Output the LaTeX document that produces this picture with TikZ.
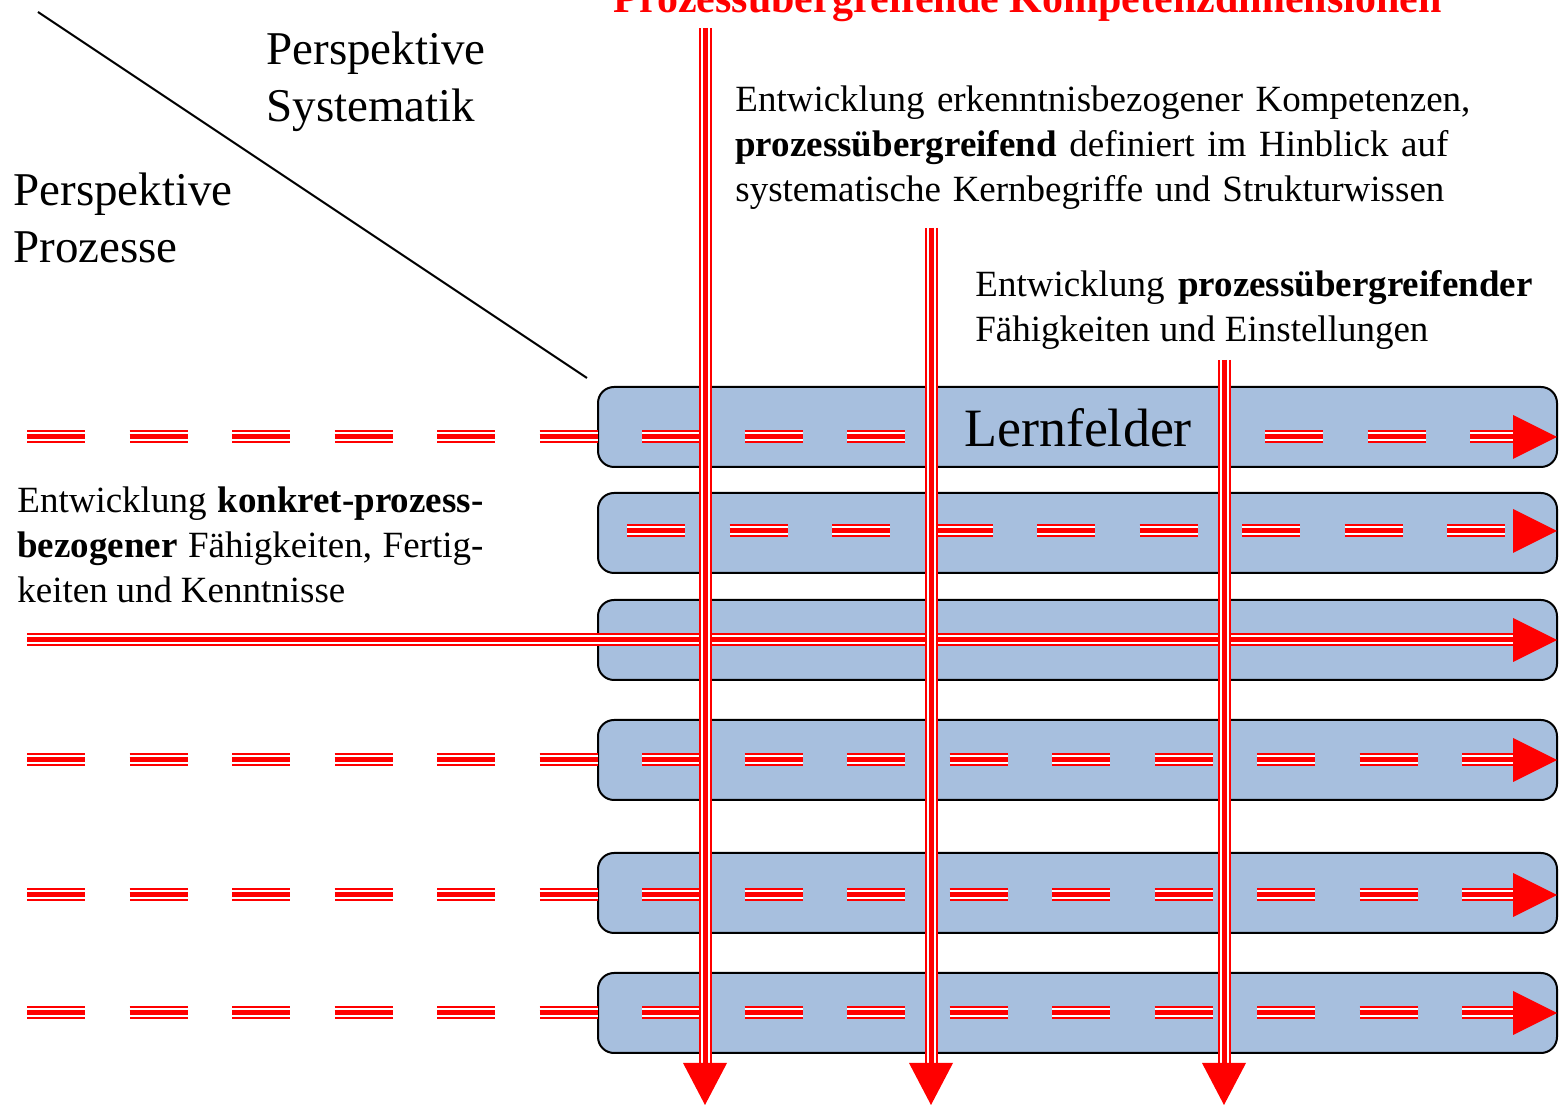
\documentclass[tikz,border=0pt]{standalone}
\usepackage{fontspec}
\setmainfont{Liberation Serif}
\definecolor{boxfill}{RGB}{167,191,222}
\tikzset{
  lfbox/.style={draw=black, line width=1pt, fill=boxfill, rounded corners=8pt,
    minimum width=479.5pt, minimum height=40pt, inner sep=0pt},
  redline/.style={draw=red, line width=6.5pt,
    postaction={draw=white, line width=4.5pt},
    postaction={draw=red, line width=2.5pt}},
  dashline/.style={redline, dash pattern=on 29pt off 22.25pt},
  body/.style={font=\fontsize{18.5pt}{22.5pt}\selectfont, anchor=base west, inner sep=0pt},
  persp/.style={font=\fontsize{23.5pt}{28pt}\selectfont, anchor=base west, inner sep=0pt},
  title/.style={font=\fontsize{21pt}{25pt}\selectfont\bfseries, text=red, anchor=base, inner sep=0pt},
  lf/.style={font=\fontsize{27pt}{32pt}\selectfont, anchor=base, inner sep=0pt},
  diag/.style={draw=black, line width=1pt},
}
\newcommand{\htip}[1]{\fill[red] (#1) ++(-44,-22) -- (#1) -- ++(-44,22) -- cycle;}
\newcommand{\vtip}[1]{\fill[red] (#1) ++(-22,-42) -- (#1) -- ++(22,-42) -- cycle;}
\begin{document}
\begin{tikzpicture}[x=0.5pt,y=-0.5pt]
\useasboundingbox (0,0) rectangle (1560,1111);

% title (cut at the top edge, as in the reference)
\node[title] (title) at (1027.5,13) {Prozessübergreifende Kompetenzdimensionen};

% diagonal
\coordinate (d1) at (38,12);
\coordinate (d2) at (587,378);
\draw[diag] (d1) -- (d2);

% perspective labels
\node[persp] (ps1) at (266,65) {Perspektive};
\node[persp] (ps2) at (266,122) {Systematik};
\node[persp] (pp1) at (13,206) {Perspektive};
\node[persp] (pp2) at (13,263) {Prozesse};

% text blocks
\node[body] (ta) at (735,112) {\makebox[367.5pt][s]{Entwicklung erkenntnisbezogener Kompetenzen,}};
\node[body] (tb) at (735,157) {\makebox[356.5pt][s]{\textbf{prozessübergreifend} definiert im Hinblick auf}};
\node[body] (tc) at (735,202) {\makebox[354.5pt][s]{systematische Kernbegriffe und Strukturwissen}};

\node[body] (ra) at (975,297) {\makebox[278.5pt][s]{Entwicklung \textbf{prozessübergreifender}}};
\node[body] (rb) at (975,342) {\makebox[226.5pt][s]{Fähigkeiten und Einstellungen}};

\node[body] (la) at (17,513) {\makebox[233pt][s]{Entwicklung \textbf{konkret-prozess-}}};
\node[body] (lb) at (17,558) {\makebox[233pt][s]{\textbf{bezogener} Fähigkeiten, Fertig-}};
\node[body] (lc) at (17,603) {\makebox[164pt][s]{keiten und Kenntnisse}};

% boxes
\node[lfbox] (b1) at (1077.5,427) {};
\node[lfbox] (b2) at (1077.5,533) {};
\node[lfbox] (b3) at (1077.5,640) {};
\node[lfbox] (b4) at (1077.5,760) {};
\node[lfbox] (b5) at (1077.5,893) {};
\node[lfbox] (b6) at (1077.5,1013) {};

% horizontal line ends
\coordinate (h1s) at (27,437);   \coordinate (h1m) at (905,437);
\coordinate (h1r) at (1265,437); \coordinate (h1e) at (1520,437); \coordinate (h1t) at (1557,437);
\coordinate (h2s) at (627,531);  \coordinate (h2e) at (1520,531); \coordinate (h2t) at (1557,531);
\coordinate (h3s) at (27,640);   \coordinate (h3e) at (1520,640); \coordinate (h3t) at (1557,640);
\coordinate (h4s) at (27,760);   \coordinate (h4e) at (1520,760); \coordinate (h4t) at (1557,760);
\coordinate (h5s) at (27,895);   \coordinate (h5e) at (1520,895); \coordinate (h5t) at (1557,895);
\coordinate (h6s) at (27,1013);  \coordinate (h6e) at (1520,1013); \coordinate (h6t) at (1557,1013);

\draw[dashline] (h1s) -- (h1m);
\draw[dashline] (h1r) -- (h1e);
\draw[dashline] (h2s) -- (h2e);
\draw[redline]  (h3s) -- (h3e);
\draw[dashline] (h4s) -- (h4e);
\draw[dashline] (h5s) -- (h5e);
\draw[dashline] (h6s) -- (h6e);
\htip{h1t}\htip{h2t}\htip{h3t}\htip{h4t}\htip{h5t}\htip{h6t}

% Lernfelder label
\node[lf] (lern) at (1078,447) {Lernfelder};

% vertical lines
\coordinate (v1s) at (705,28);  \coordinate (v1e) at (705,1072);  \coordinate (v1t) at (705,1105);
\coordinate (v2s) at (931,228); \coordinate (v2e) at (931,1072);  \coordinate (v2t) at (931,1105);
\coordinate (v3s) at (1224,360);\coordinate (v3e) at (1224,1072); \coordinate (v3t) at (1224,1105);
\draw[redline] (v1s) -- (v1e);
\draw[redline] (v2s) -- (v2e);
\draw[redline] (v3s) -- (v3e);
\vtip{v1t}\vtip{v2t}\vtip{v3t}
\end{tikzpicture}
\end{document}
